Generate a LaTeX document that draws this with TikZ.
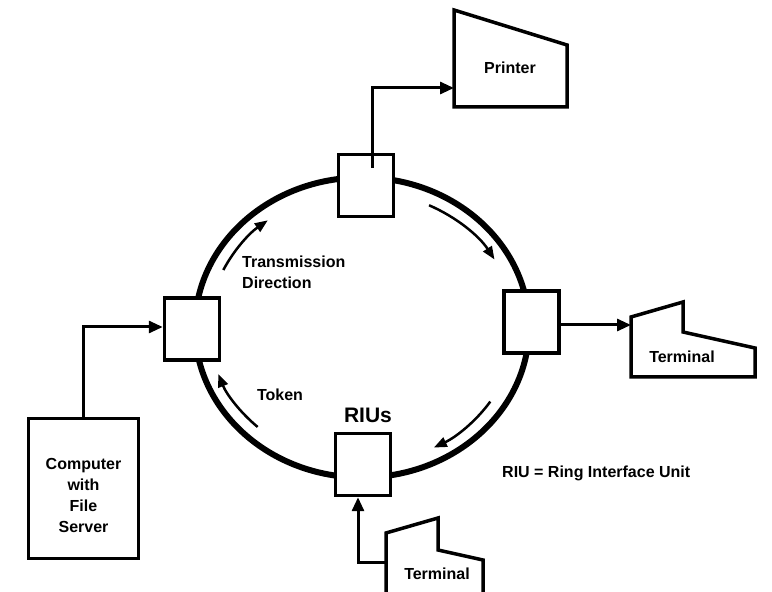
\documentclass[tikz,border=0pt]{standalone}
\usepackage{fontspec}
\setmainfont{Liberation Sans}
\usetikzlibrary{arrows.meta}
\begin{document}
\begin{tikzpicture}[x=1pt,y=1pt,
  every node/.style={font=\bfseries\fontsize{16}{21}\selectfont},
  riu/.style={draw,line width=3.5,fill=white,minimum width=55,minimum height=62,inner sep=0},
  device/.style={line width=3.5,line join=miter,fill=white},
  link/.style={line width=3,-{Triangle[length=14,width=12]}},
  flow/.style={line width=2.5,-{Triangle[length=13,width=10]}},
  txt/.style={inner sep=0}]
\useasboundingbox (0,0) rectangle (772,592);
\clip (0,0) rectangle (772,592);

% the ring
\draw[line width=6] (362,264.5) ellipse [x radius=167, y radius=150];

% direction arrows inside the ring
\begin{scope}[shift={(362,264.5)}]
  \draw[flow] (155:153 and 136) arc[start angle=155, end angle=128, x radius=153, y radius=136];
  \draw[flow] (64:153 and 136) arc[start angle=64, end angle=30, x radius=153, y radius=136];
  \draw[flow] (-33:153 and 136) arc[start angle=-33, end angle=-62, x radius=153, y radius=136];
  \draw[flow] (227:153 and 136) arc[start angle=227, end angle=200, x radius=153, y radius=136];
\end{scope}

% ring interface units
\node[riu] (riuT) at (366,406.5) {};
\node[riu] (riuL) at (192,263) {};
\node[riu] (riuR) at (531.5,270) {};
\node[riu] (riuB) at (363,127.5) {};

% printer
\draw[device] (454,582) -- (567,547) -- (567,485) -- (454,485) -- cycle;
\node[txt] (printer) at (510,524) {Printer};
\coordinate (prnIn) at (454,504);
\coordinate (riuTtap) at (372,424);

% terminal on the right
\draw[device] (631,275) -- (683,290) -- (683,260) -- (755,244) -- (755,215) -- (631,215) -- cycle;
\node[txt] (termRtext) at (682,235) {Terminal};
\coordinate (termR) at (631,267);

% terminal at the bottom
\draw[device] (386,59) -- (438,74) -- (438,42) -- (483,32) -- (483,-10) -- (386,-10) -- cycle;
\node[txt] (termBtext) at (437,18) {Terminal};
\coordinate (termB) at (386,29);

% computer with file server
\node[draw,line width=3.5,minimum width=110,minimum height=140,inner sep=0] (comp) at (83.5,103.5) {};
\node[txt,align=center] (compText) at (83.5,97) {Computer\\with\\File\\Server};

% connections
\draw[link] (riuTtap) |- (prnIn);
\draw[link] (riuR.east |- termR) -- (termR);
\draw[link] (termB) -| ([xshift=-5]riuB.south);
\draw[link] (comp.north) |- ([yshift=2]riuL.west);

% labels
\node[txt,anchor=west,align=left] (dirText) at (242,319.5) {Transmission\\Direction};
\node[txt] (tokenText) at (280,197) {Token};
\node[txt,font=\bfseries\fontsize{21}{25}\selectfont] (riusText) at (368,177) {RIUs};
\node[txt,anchor=west] (legend) at (502,119) {RIU = Ring Interface Unit};
\end{tikzpicture}
\end{document}
